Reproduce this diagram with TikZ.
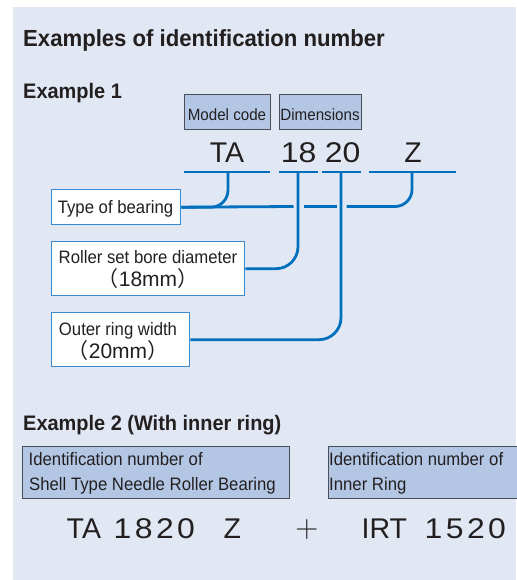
\documentclass[tikz,border=0pt]{standalone}
\usepackage{fontspec}
\newfontfamily\condf[FakeStretch=0.93]{Liberation Sans}
\newfontfamily\condb[FakeStretch=0.95]{Liberation Sans Bold}
\newfontfamily\helv{Liberation Sans}
\newfontfamily\bigA[FakeStretch=1.12]{Liberation Sans}
\newfontfamily\bigB[FakeStretch=1.12,LetterSpace=12]{Liberation Sans}
\newfontfamily\cjk{Noto Sans CJK JP}
\definecolor{bgc}{HTML}{E1E8F4}
\definecolor{boxfill}{HTML}{B3C7E5}
\definecolor{grayline}{HTML}{4A4F57}
\definecolor{blueline}{HTML}{0070BE}
\definecolor{boxblue}{HTML}{3A8BD0}
\definecolor{ink}{HTML}{231F20}
\tikzset{
  txt/.style={inner sep=0pt, text=ink},
  gbox/.style={draw=grayline, fill=boxfill, line width=1.1pt, inner sep=0pt, anchor=north west},
  wbox/.style={draw=boxblue, fill=white, line width=1.4pt, inner sep=0pt, anchor=north west},
  uline/.style={draw=blueline, line width=2.6pt},
  conn/.style={draw=blueline, line width=2.8pt},
}
\begin{document}
\begin{tikzpicture}[x=1pt,y=-1pt]
\useasboundingbox (0,0) rectangle (516,580);
\fill[bgc] (13,7) rectangle (516,580);

% headings
\node[txt, anchor=base west] (title) at (23,46.5) {\condb\fontsize{23.3}{24}\selectfont Examples of identification number};
\node[txt, anchor=base west] (ex1) at (23,98.5) {\condb\fontsize{21}{22}\selectfont Example 1};

% model code / dimensions
\node[gbox, minimum width=86, minimum height=35] (mc) at (184,94) {};
\node[gbox, minimum width=82, minimum height=35] (dim) at (279,94) {};
\node[txt, anchor=base] (mct) at (227,121) {\condf\fontsize{16.3}{17}\selectfont Model code};
\node[txt, anchor=base] (dimt) at (320,121) {\condf\fontsize{16.3}{17}\selectfont Dimensions};

% big code
\node[txt, anchor=base] (ta) at (227,162) {\helv\fontsize{28.5}{29}\selectfont TA};
\node[txt, anchor=base] (n18) at (298.5,162) {\bigA\fontsize{28.5}{29}\selectfont 18};
\node[txt, anchor=base] (n20) at (342.5,162) {\bigA\fontsize{28.5}{29}\selectfont 20};
\node[txt, anchor=base] (z) at (413,162) {\helv\fontsize{28.5}{29}\selectfont Z};

% underlines
\coordinate (u1a) at (184,172); \coordinate (u1b) at (270,172);
\coordinate (u2a) at (279,172); \coordinate (u2b) at (318,172);
\coordinate (u3a) at (322,172); \coordinate (u3b) at (361,172);
\coordinate (u4a) at (369,172); \coordinate (u4b) at (456,172);
\draw[uline] (u1a) -- (u1b);
\draw[uline] (u2a) -- (u2b);
\draw[uline] (u3a) -- (u3b);
\draw[uline] (u4a) -- (u4b);

% label boxes
\node[wbox, minimum width=129, minimum height=35] (tob) at (51,189) {};
\node[wbox, minimum width=193, minimum height=54] (rsb) at (51,241) {};
\node[wbox, minimum width=138, minimum height=54] (orw) at (51,312) {};

\node[txt, anchor=base] (tobt) at (115.5,213.5) {\condf\fontsize{18}{19}\selectfont Type of bearing};
\node[txt, anchor=base] (rsbt1) at (148,263) {\condf\fontsize{18}{19}\selectfont Roller set bore diameter};
\node[txt, anchor=base] (rsbt2) at (148,286) {\helv\fontsize{21}{22}\selectfont{\cjk （}18mm{\cjk ）}};
\node[txt, anchor=base] (orwt1) at (118,335) {\condf\fontsize{18}{19}\selectfont Outer ring width};
\node[txt, anchor=base] (orwt2) at (118,358) {\helv\fontsize{21}{22}\selectfont{\cjk （}20mm{\cjk ）}};

% connectors
\coordinate (cta) at (228,172);
\coordinate (c18) at (298,172);
\coordinate (c20) at (341,172);
\coordinate (cz) at (412,172);
\coordinate (g1a) at (293.5,206.5); \coordinate (g1b) at (303.5,206.5);
\coordinate (g2a) at (336.5,206.5); \coordinate (g2b) at (346.5,206.5);
\draw[conn] (tob.east) -- (g1a);
\draw[conn] (g1b) -- (g2a);
\draw[conn, rounded corners=17] (cz) |- (g2b);
\draw[conn, rounded corners=17] (cta) |- (tob.east);
\draw[conn, rounded corners=22] (c18) |- (rsb.east);
\draw[conn, rounded corners=22] (c20) |- (orw.east);

% example 2
\node[txt, anchor=base west] (ex2) at (23,430) {\condb\fontsize{21}{22}\selectfont Example 2 (With inner ring)};
\node[gbox, minimum width=267, minimum height=52] (idb) at (22,446) {};
\node[gbox, minimum width=200, minimum height=52] (idr) at (328,446) {};
\node[txt, anchor=base west] (idbt1) at (28.5,465.5) {\condf\fontsize{18}{19}\selectfont Identification number of};
\node[txt, anchor=base west] (idbt2) at (29,490) {\condf\fontsize{18}{19}\selectfont Shell Type Needle Roller Bearing};
\node[txt, anchor=base west] (idrt1) at (329,465.5) {\condf\fontsize{18}{19}\selectfont Identification number of};
\node[txt, anchor=base west] (idrt2) at (329,490) {\condf\fontsize{18}{19}\selectfont Inner Ring};

\node[txt, anchor=base west] (bta) at (66.5,538) {\helv\fontsize{28.5}{29}\selectfont TA};
\node[txt, anchor=base west] (b1820) at (113.5,538) {\bigB\fontsize{28.5}{29}\selectfont 1820};
\node[txt, anchor=base west] (bz) at (223.5,538) {\helv\fontsize{28.5}{29}\selectfont Z};
\node[txt, anchor=base] (plus) at (307,537) {\rmfamily\fontsize{32}{32}\selectfont +};
\node[txt, anchor=base west] (birt) at (361.5,538) {\helv\fontsize{28.5}{29}\selectfont IRT};
\node[txt, anchor=base west] (b1520) at (424.5,538) {\bigB\fontsize{28.5}{29}\selectfont 1520};
\end{tikzpicture}
\end{document}
